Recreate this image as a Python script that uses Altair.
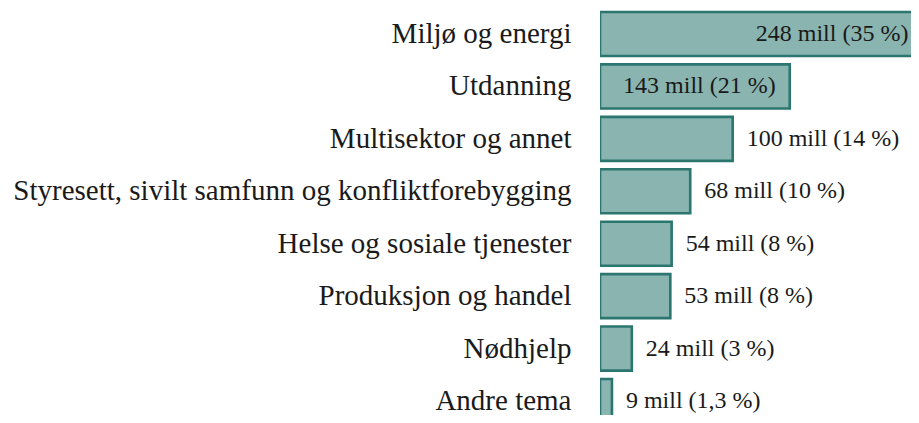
import altair as alt
import pandas as pd

categories = [
    "Miljø og energi",
    "Utdanning",
    "Multisektor og annet",
    "Styresett, sivilt samfunn og konfliktforebygging",
    "Helse og sosiale tjenester",
    "Produksjon og handel",
    "Nødhjelp",
    "Andre tema",
]
values = [248, 143, 100, 68, 54, 53, 24, 9]
labels = [
    "248 mill (35 %)",
    "143 mill (21 %)",
    "100 mill (14 %)",
    "68 mill (10 %)",
    "54 mill (8 %)",
    "53 mill (8 %)",
    "24 mill (3 %)",
    "9 mill (1,3 %)",
]

df = pd.DataFrame({"cat": categories, "value": values, "label": labels})

FONT = "Liberation Serif"
x_scale = alt.Scale(domain=[0, 234.4], nice=False, zero=True)
x_enc = alt.X("value:Q", axis=None, scale=x_scale)
y_enc = alt.Y(
    "cat:N",
    sort=categories,
    title=None,
    scale=alt.Scale(range=[4, 415], paddingInner=0.16, paddingOuter=0),
    axis=alt.Axis(
        domain=False,
        ticks=False,
        labelFont=FONT,
        labelFontSize=29,
        labelColor="#1a1a1a",
        labelPadding=29,
        minExtent=592,
        maxExtent=592,
        labelLimit=0,
    ),
)

bars = alt.Chart(df).mark_bar(
    fill="#89b4af", stroke="#2b766f", strokeWidth=2.6, clip=True
).encode(x=x_enc, y=y_enc)

inside = (
    alt.Chart(df)
    .transform_filter("datum.value > 120")
    .transform_calculate(lx="min(datum.value, 243)")
    .mark_text(align="right", baseline="middle", dx=-14, font=FONT, fontSize=24, color="#1a1a1a")
    .encode(x=alt.X("lx:Q", axis=None, scale=x_scale), y=y_enc, text="label:N")
)

outside = alt.Chart(df).transform_filter("datum.value <= 120").mark_text(
    align="left", baseline="middle", dx=14, font=FONT, fontSize=24, color="#1a1a1a"
).encode(x=x_enc, y=y_enc, text="label:N")

chart = (
    alt.layer(bars, inside, outside)
    .properties(width=311, height=407, padding=0)
    .configure_view(stroke=None)
)

chart.save("out.html", embed_options={"renderer": "svg", "actions": False})
